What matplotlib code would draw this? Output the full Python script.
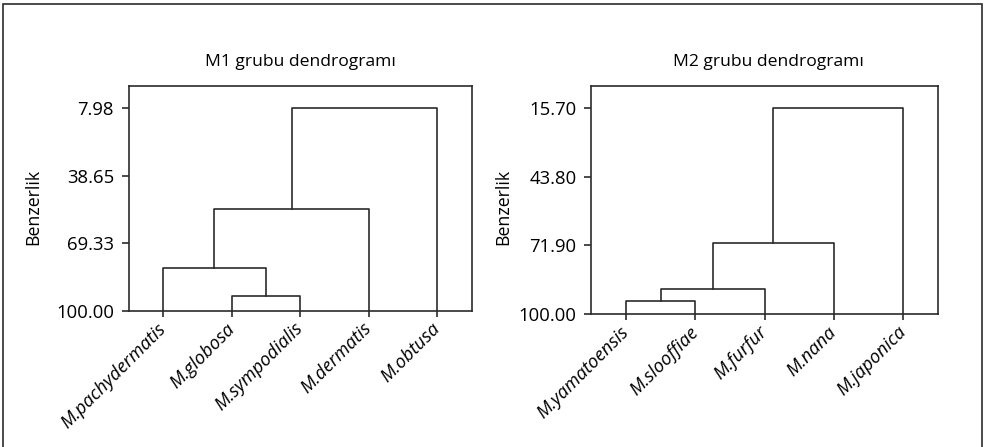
import matplotlib
matplotlib.use('Agg')
import matplotlib.pyplot as plt
from matplotlib.patches import Rectangle

plt.rcParams['font.family'] = ['Open Sans', 'DejaVu Sans']

# leaves in drawing order, merges as (child a, child b, similarity), new cluster = n + i
m1_leaves = ["M.pachydermatis", "M.globosa", "M.sympodialis", "M.dermatis", "M.obtusa"]
m1_merges = [(1, 2, 93.2), (0, 5, 80.5), (6, 3, 53.9), (7, 4, 7.98)]
m1_ticks = [7.98, 38.65, 69.33, 100.00]

m2_leaves = ["M.yamatoensis", "M.slooffiae", "M.furfur", "M.nana", "M.japonica"]
m2_merges = [(0, 1, 94.5), (5, 2, 89.6), (6, 3, 71.0), (7, 4, 15.70)]
m2_ticks = [15.70, 43.80, 71.90, 100.00]

titles = ["M1 grubu dendrogramı", "M2 grubu dendrogramı"]
ylabel = "Benzerlik"

col = '#2b2b2b'


def dendro(ax, leaves, merges, ticks, top, title, tx, lx, ly):
  n = len(leaves)
  pos = {i: (i + 1, 100.0) for i in range(n)}  # cluster -> (x, height)
  for k, (a, b, h) in enumerate(merges):
    xa, ya = pos[a]
    xb, yb = pos[b]
    ax.plot([xa, xa, xb, xb], [ya, h, h, yb], color=col, lw=1.2)
    pos[n + k] = ((xa + xb) / 2.0, h)
  ax.set_xlim(0.5, n + 0.5)
  ax.set_ylim(100, top)
  ax.set_yticks(ticks)
  ax.set_yticklabels(["%.2f" % t for t in ticks])
  ax.set_xticks(range(1, n + 1))
  ax.set_xticklabels(leaves, rotation=45, ha='right', va='center',
                     rotation_mode='anchor', style='italic')
  ax.tick_params(axis='y', direction='out', length=5, width=1.2, color=col,
                 labelsize=13.3, pad=5.5)
  ax.tick_params(axis='x', direction='out', length=4, width=1.2, color=col,
                 labelsize=13.2, pad=7)
  for s in ax.spines.values():
    s.set_color(col)
    s.set_linewidth(1.2)
  ax.set_title(title, fontsize=12.6, pad=14, x=tx)
  ax.set_ylabel(ylabel, fontsize=12.8)
  ax.yaxis.set_label_coords(lx, ly)


fig = plt.figure(figsize=(9.84, 4.47), dpi=100)
ax1 = fig.add_axes([0.1308, 0.3049, 0.3486, 0.5034])
ax2 = fig.add_axes([0.6009, 0.2975, 0.3524, 0.5108])
dendro(ax1, m1_leaves, m1_merges, m1_ticks, -2.2, titles[0], 0.502, -0.253, 0.461)
dendro(ax2, m2_leaves, m2_merges, m2_ticks, 6.4, titles[1], 0.512, -0.227, 0.471)

# outer frame of the figure (bottom edge falls outside the picture)
fig.patches.append(Rectangle((2.5 / 984, -0.05), (981.7 - 2.5) / 984, 1.05 - 4 / 447,
                             transform=fig.transFigure, fill=False,
                             edgecolor=col, lw=1.2))

fig.savefig('out.png', dpi=100)
